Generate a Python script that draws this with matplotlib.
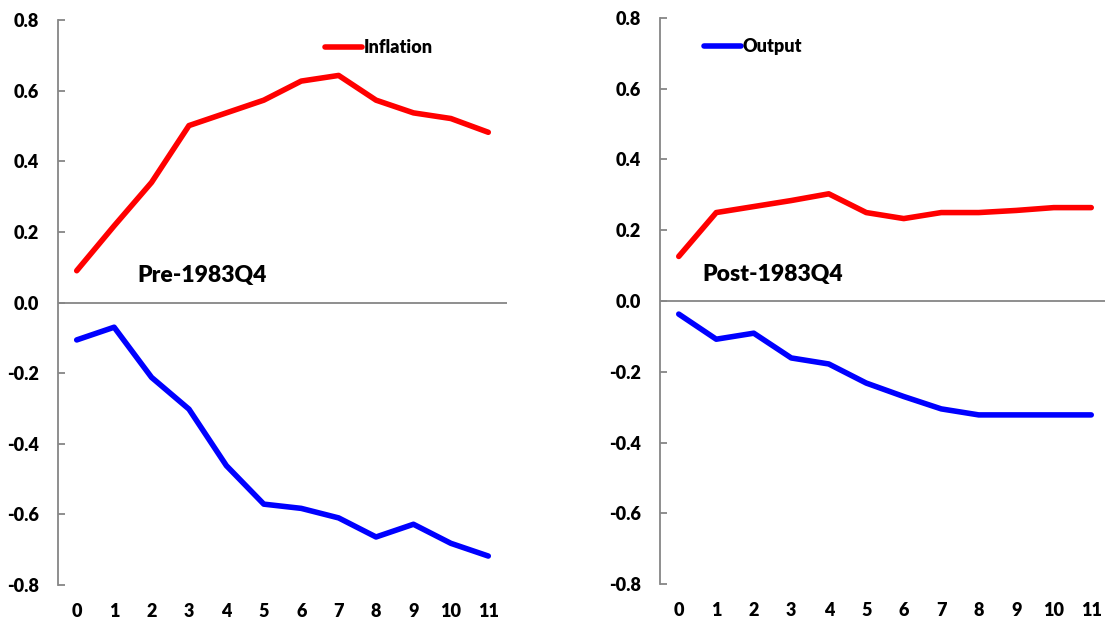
import matplotlib
matplotlib.use("Agg")
import matplotlib.pyplot as plt

plt.rcParams['font.family'] = ['Lato', 'DejaVu Sans']
plt.rcParams['font.weight'] = 'bold'

# impulse responses, quarters 0..11
quarters = list(range(12))
pre_inflation = [0.09, 0.217, 0.340, 0.501, 0.537, 0.573, 0.627, 0.643, 0.573, 0.537, 0.521, 0.482]
pre_output = [-0.106, -0.070, -0.212, -0.302, -0.462, -0.571, -0.583, -0.610, -0.664, -0.628, -0.682, -0.718]
post_inflation = [0.126, 0.250, 0.267, 0.284, 0.303, 0.250, 0.233, 0.250, 0.250, 0.256, 0.264, 0.264]
post_output = [-0.037, -0.108, -0.091, -0.161, -0.178, -0.232, -0.270, -0.305, -0.322, -0.322, -0.322, -0.322]
y_ticks = [-0.8, -0.6, -0.4, -0.2, 0.0, 0.2, 0.4, 0.6, 0.8]

RED = '#FF0000'
BLUE = '#0000FF'
GRAY = '#868686'

fig = plt.figure(figsize=(11.05, 6.2), dpi=100)
ax1 = fig.add_axes([58 / 1105, 1 - 585 / 620, 449 / 1105, 565 / 620])
ax2 = fig.add_axes([660 / 1105, 1 - 584 / 620, 450 / 1105, 566 / 620])


def style_axis(ax):
    ax.set_xlim(-0.5, 11.5)
    ax.set_ylim(-0.8, 0.8)
    ax.set_yticks(y_ticks)
    ax.set_yticklabels(['%.1f' % v for v in y_ticks])
    ax.set_xticks(quarters)
    ax.set_xticklabels([str(q) for q in quarters])
    for s in ['top', 'right', 'bottom']:
        ax.spines[s].set_visible(False)
    ax.spines['left'].set_color(GRAY)
    ax.spines['left'].set_linewidth(1.3)
    ax.axhline(0, color=GRAY, lw=1.3, zorder=1)
    ax.tick_params(axis='y', direction='in', length=5, width=1.3, color=GRAY,
                   pad=14, labelsize=13)
    ax.tick_params(axis='x', length=0, pad=13, labelsize=13)
    for lab in ax.get_xticklabels() + ax.get_yticklabels():
        lab.set_fontweight('heavy')


def add_legend(ax, x, y):
    ax.legend(loc='center left', bbox_to_anchor=(x, y), frameon=False,
              borderpad=0, borderaxespad=0, handlelength=2.05, handletextpad=0.1,
              prop={'weight': 'heavy', 'size': 13})


line_kw = dict(lw=4, solid_capstyle='round', solid_joinstyle='round', zorder=3)

ax1.plot(quarters, pre_inflation, color=RED, label='Inflation', **line_kw)
ax1.plot(quarters, pre_output, color=BLUE, **line_kw)
style_axis(ax1)
add_legend(ax1, 0.595, 0.951)
ax1.text(1.61, 0.076, 'Pre-1983Q4', fontsize=16.5, fontweight='heavy', ha='left', va='center')

ax2.plot(quarters, post_inflation, color=RED, **line_kw)
ax2.plot(quarters, post_output, color=BLUE, label='Output', **line_kw)
style_axis(ax2)
add_legend(ax2, 0.098, 0.949)
ax2.text(0.62, 0.075, 'Post-1983Q4', fontsize=16.5, fontweight='heavy', ha='left', va='center')

fig.savefig('out.png', dpi=100)
